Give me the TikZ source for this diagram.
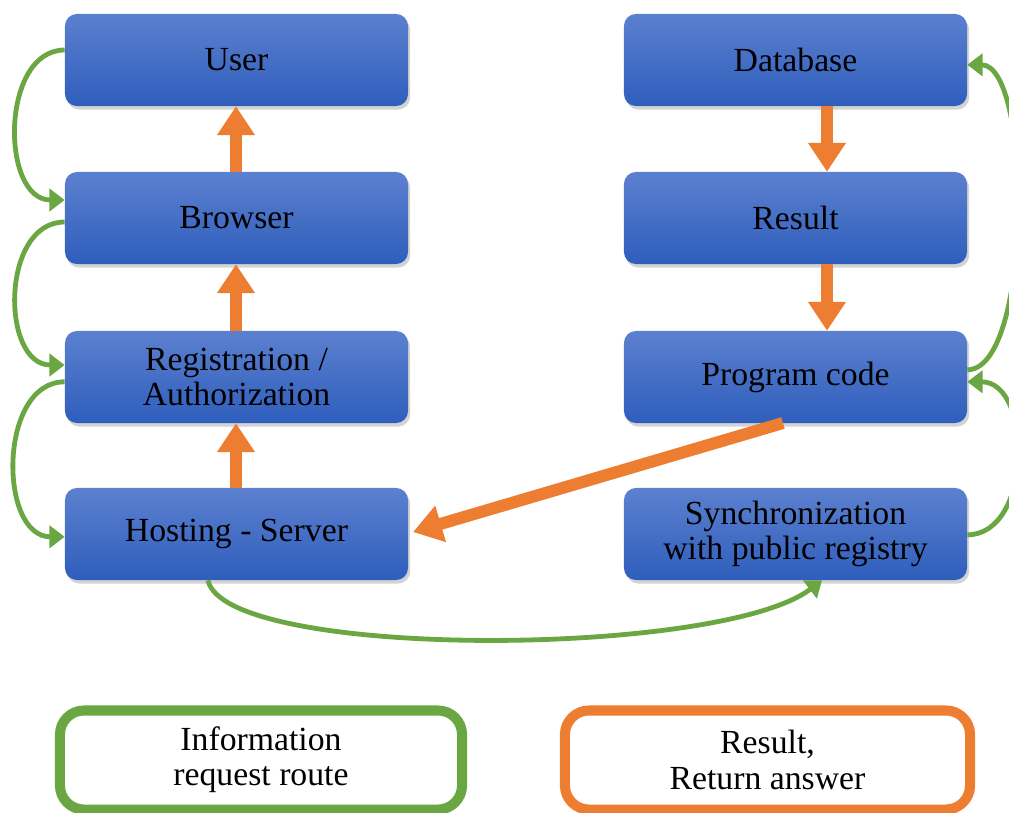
\documentclass[tikz,border=0pt]{standalone}
\usepackage{fontspec}
\setmainfont{Liberation Serif}
\usetikzlibrary{arrows.meta,shadows}
\definecolor{boxtop}{RGB}{92,128,207}
\definecolor{boxbot}{RGB}{46,94,188}
\definecolor{resorange}{RGB}{237,125,49}
\definecolor{reqgreen}{RGB}{106,166,66}
\tikzset{
    block/.style={rectangle, rounded corners=0.3cm, top color=boxtop, bottom color=boxbot,
        minimum width=8.575cm, minimum height=2.3cm, align=center,
        font=\fontsize{24}{24.5}\selectfont,
        drop shadow={opacity=0.35, shadow xshift=1.5pt, shadow yshift=-2.5pt}},
    result/.style={draw=resorange, line width=0.3cm,
        -{Triangle[width=0.9cm, length=0.72cm]}},
    request/.style={draw=reqgreen, line width=0.12cm,
        -{Triangle[width=0.55cm, length=0.38cm]}},
    legend/.style={draw, line width=0.25cm, rounded corners=0.6cm, fill=white,
        minimum height=2.475cm, align=center, font=\fontsize{24}{25}\selectfont}
}
\begin{document}
\begin{tikzpicture}[x=0.025cm, y=-0.025cm]
    \useasboundingbox (0,0) rectangle (1009,812);

    % left column
    \node[block] (user) at (236.5,60) {User};
    \node[block] (browser) at (236.5,218) {Browser};
    \node[block] (auth) at (236.5,377) {Registration /\\Authorization};
    \node[block] (hosting) at (236.5,534) {Hosting - Server};

    % right column
    \node[block] (db) at (795.5,60) {Database};
    \node[block] (res) at (795.5,218) {Result};
    \node[block] (code) at (795.5,377) {Program code};
    \node[block] (sync) at (795.5,534) {Synchronization\\with public registry};

    % result arrows
    \draw[result] (browser.north -| 236,0) -- (user.south -| 236,0);
    \draw[result] (auth.north -| 236,0) -- (browser.south -| 236,0);
    \draw[result] (hosting.north -| 236,0) -- (auth.south -| 236,0);
    \draw[result] (db.south -| 827,0) -- (res.north -| 827,0);
    \draw[result] (res.south -| 827,0) -- (code.north -| 827,0);
    \coordinate (codeout) at (783,423);
    \coordinate (hostin) at (413,532);
    \draw[result] (codeout) -- (hostin);

    % request arrows
    \draw[request] ([yshift=0.25cm]user.west) to[out=180, in=180, looseness=1.1] ([yshift=0.45cm]browser.west);
    \draw[request] ([yshift=-0.1cm]browser.west) to[out=180, in=180, looseness=1.15] ([yshift=0.3cm]auth.west);
    \draw[request] ([yshift=-0.12cm]auth.west) to[out=180, in=180, looseness=1.1] ([yshift=-0.07cm]hosting.west);
    \draw[request] ([yshift=-0.02cm]sync.east) to[out=0, in=0, looseness=1.1] ([yshift=-0.12cm]code.east);
    \draw[request] ([yshift=0.18cm]code.east) to[out=0, in=0, looseness=0.55] ([yshift=-0.12cm]db.east);
    \draw[request] (hosting.south -| 208,0) .. controls (225,660) and (720,658) .. (sync.south -| 822,0);

    % legend
    \node[legend, draw=reqgreen, minimum width=10.05cm] (info) at (261,760) {Information\\request route};
    \node[legend, draw=resorange, minimum width=10.125cm] (answer) at (767.5,760) {Result,\\Return answer};
\end{tikzpicture}
\end{document}
